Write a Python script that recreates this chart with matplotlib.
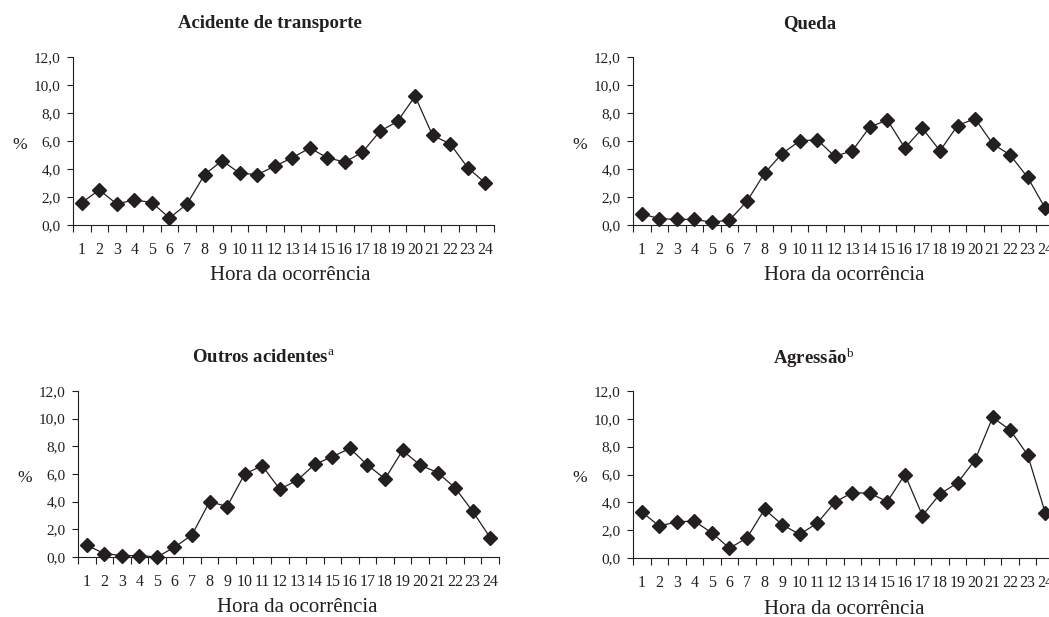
import matplotlib
matplotlib.use("Agg")
import matplotlib.pyplot as plt
from matplotlib.ticker import FuncFormatter, FixedLocator

plt.rcParams['font.family'] = ['Liberation Serif', 'DejaVu Serif']
plt.rcParams['mathtext.fontset'] = 'custom'
plt.rcParams['mathtext.rm'] = 'Liberation Serif'
plt.rcParams['mathtext.it'] = 'Liberation Serif:italic'
plt.rcParams['mathtext.bf'] = 'Liberation Serif:bold'

# hora da ocorrencia
horas = list(range(1, 25))

# percentuais por hora
transporte = [1.6, 2.5, 1.5, 1.8, 1.6, 0.5, 1.5, 3.6, 4.6, 3.7, 3.6, 4.2,
              4.8, 5.5, 4.8, 4.5, 5.2, 6.7, 7.4, 9.2, 6.4, 5.8, 4.1, 3.0]
queda = [0.8, 0.45, 0.4, 0.4, 0.2, 0.35, 1.7, 3.7, 5.1, 6.0, 6.1, 4.9,
         5.3, 7.0, 7.5, 5.5, 6.9, 5.3, 7.1, 7.6, 5.8, 5.0, 3.4, 1.2]
outros = [0.85, 0.25, 0.1, 0.1, 0.0, 0.7, 1.6, 4.0, 3.65, 6.0, 6.6, 4.9,
          5.55, 6.7, 7.25, 7.85, 6.65, 5.65, 7.7, 6.65, 6.1, 5.0, 3.3, 1.4]
agressao = [3.3, 2.3, 2.6, 2.65, 1.8, 0.7, 1.45, 3.5, 2.4, 1.7, 2.5, 4.0,
            4.7, 4.65, 4.05, 6.0, 3.05, 4.6, 5.4, 7.05, 10.1, 9.2, 7.4, 3.25]

titulos = ["Acidente de transporte", "Queda",
           r"Outros acidentes$^{\mathrm{a}}$", r"Agressão$^{\mathrm{b}}$"]
series = [transporte, queda, outros, agressao]

cor = '#231f20'
fig = plt.figure(figsize=(10.49, 6.17), dpi=100)

W, H = 1049, 617
# (left, top of axes, bottom of axes) in pixels
caixas = [(73, 57, 225), (633, 57, 225), (78, 391, 557), (633, 391, 558)]
# title centre x, title y, xlabel centre x, xlabel y, % x, % y
textos = [(270, 24, 290, 276, 20, 145), (810, 24, 844, 276, 580, 145),
          (263, 357, 297, 608, 25, 478), (814, 358, 844, 609, 580, 478)]
largura = 421

fmt = FuncFormatter(lambda v, p: f"{v:.1f}".replace('.', ','))

for (l, t, b), (tx, ty, lx, ly, px, py), tit, dados in zip(caixas, textos, titulos, series):
    ax = fig.add_axes([l / W, 1 - b / H, largura / W, (b - t) / H])
    ax.plot(horas, dados, color=cor, lw=0.9, marker='D', markersize=7,
            markerfacecolor=cor, markeredgecolor=cor, clip_on=False)
    ax.set_xlim(0.5, 24.5)
    ax.set_ylim(0, 12)
    ax.set_yticks([0, 2, 4, 6, 8, 10, 12])
    ax.yaxis.set_major_formatter(fmt)
    ax.xaxis.set_major_locator(FixedLocator([h + 0.5 for h in range(0, 25)]))
    ax.xaxis.set_minor_locator(FixedLocator(horas))
    ax.set_xticklabels([])
    ax.set_xticklabels([str(h) for h in horas], minor=True)
    ax.tick_params(axis='x', which='major', length=5, width=0.8, color=cor, direction='out')
    ax.tick_params(axis='x', which='minor', length=0, labelsize=11.5, labelcolor=cor, pad=12)
    ax.tick_params(axis='y', length=4, width=0.8, color=cor, labelsize=11, labelcolor=cor, pad=5)
    for s in ['top', 'right']:
        ax.spines[s].set_visible(False)
    for s in ['left', 'bottom']:
        ax.spines[s].set_color(cor)
        ax.spines[s].set_linewidth(0.8)
    fig.text(tx / W, 1 - ty / H, tit, ha='center', va='center', fontsize=13.5,
             fontweight='bold', color=cor)
    fig.text(lx / W, 1 - ly / H, "Hora da ocorrência", ha='center', va='center',
             fontsize=15, color=cor)
    fig.text(px / W, 1 - py / H, "%", ha='center', va='center', fontsize=12.5, color=cor)

plt.savefig('out.png', dpi=100)
